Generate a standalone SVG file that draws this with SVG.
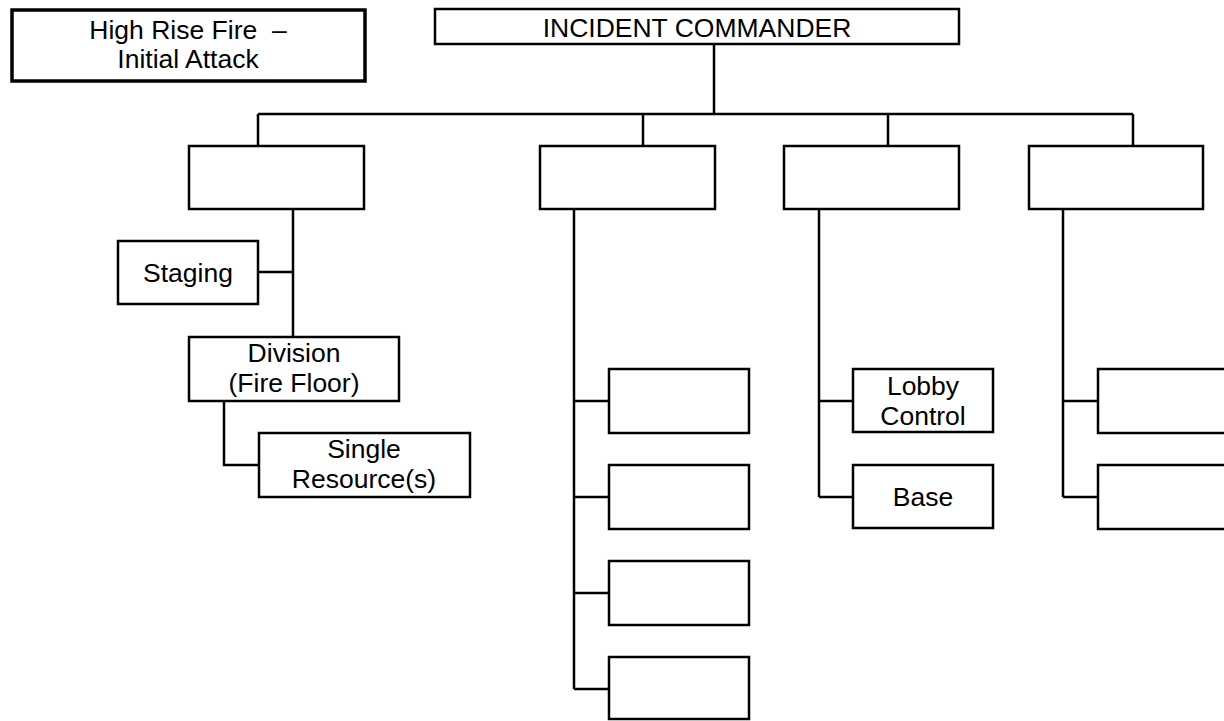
<svg xmlns="http://www.w3.org/2000/svg" width="1224" height="721" viewBox="0 0 1224 721">
<style>
.box{fill:#fff;stroke:#000;stroke-width:2.5}
.title{fill:#fff;stroke:#000;stroke-width:3.5}
.lbl{font-family:"Liberation Sans",Arial,sans-serif;font-size:26.5px;fill:#000;text-anchor:middle}
#connectors path{fill:none;stroke:#000;stroke-width:2.5}
</style>
<rect width="1224" height="721" fill="#fff"/>
<g id="connectors">
<path d="M714 44V114M258 114H1133M258 114V146M643 114V146M888 114V146M1133 114V146"/>
<path d="M293 209V337M258 272H293"/>
<path d="M224 401V465H259"/>
<path d="M574 209V689M574 401H609M574 497H609M574 593H609M574 689H609"/>
<path d="M819 209V497M819 401H853M819 497H853"/>
<path d="M1063 209V497M1063 401H1098M1063 497H1098"/>
</g>
<g id="title"><rect class="title" x="12" y="10" width="353" height="71"/><text class="lbl" x="188" y="39">High Rise Fire &#160;–</text><text class="lbl" x="188" y="68">Initial Attack</text></g>
<g id="ic"><rect class="box" x="435" y="9" width="524" height="35"/><text class="lbl" x="697" y="37">INCIDENT COMMANDER</text></g>
<g id="sec1"><rect class="box" x="189" y="146" width="175" height="63"/></g>
<g id="sec2"><rect class="box" x="540" y="146" width="175" height="63"/></g>
<g id="sec3"><rect class="box" x="784" y="146" width="175" height="63"/></g>
<g id="sec4"><rect class="box" x="1029" y="146" width="174" height="63"/></g>
<g id="staging"><rect class="box" x="118" y="241" width="140" height="63"/><text class="lbl" x="188" y="282">Staging</text></g>
<g id="division"><rect class="box" x="189" y="337" width="210" height="64"/><text class="lbl" x="294" y="362">Division</text><text class="lbl" x="294" y="392">(Fire Floor)</text></g>
<g id="single"><rect class="box" x="259" y="433" width="211" height="64"/><text class="lbl" x="364" y="458">Single</text><text class="lbl" x="364" y="488">Resource(s)</text></g>
<g id="m1"><rect class="box" x="609" y="369" width="140" height="64"/></g>
<g id="m2"><rect class="box" x="609" y="465" width="140" height="64"/></g>
<g id="m3"><rect class="box" x="609" y="561" width="140" height="64"/></g>
<g id="m4"><rect class="box" x="609" y="657" width="140" height="62"/></g>
<g id="lobby"><rect class="box" x="853" y="369" width="140" height="63"/><text class="lbl" x="923" y="395">Lobby</text><text class="lbl" x="923" y="425">Control</text></g>
<g id="base"><rect class="box" x="853" y="465" width="140" height="63"/><text class="lbl" x="923" y="506">Base</text></g>
<g id="r1"><rect class="box" x="1098" y="369" width="140" height="64"/></g>
<g id="r2"><rect class="box" x="1098" y="465" width="140" height="64"/></g>
</svg>
